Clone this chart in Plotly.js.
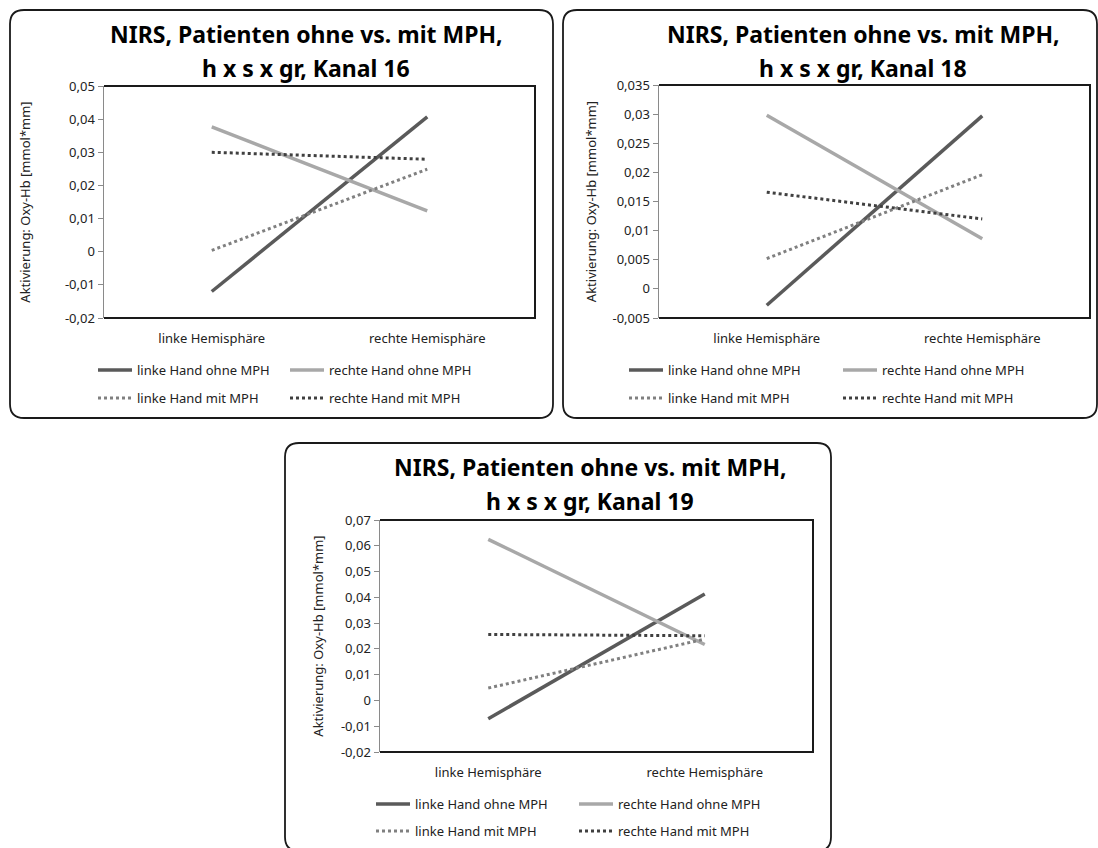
<!DOCTYPE html>
<html>
<head>
<meta charset="utf-8">
<script src="https://cdn.plot.ly/plotly-3.0.1.min.js"></script>
<style>html,body{margin:0;padding:0;background:#fff;}#chart{width:1098px;height:848px;}</style>
</head>
<body>
<div id="chart"></div>
<script>
// ---- data ----
const categories = ['linke Hemisphäre', 'rechte Hemisphäre'];
const seriesNames = ['linke Hand ohne MPH', 'rechte Hand ohne MPH', 'linke Hand mit MPH', 'rechte Hand mit MPH'];

const kanal16_linkeOhne = [-0.0120, 0.0407];
const kanal16_rechteOhne = [0.0377, 0.0123];
const kanal16_linkeMit = [0.0004, 0.0249];
const kanal16_rechteMit = [0.0300, 0.0279];

const kanal18_linkeOhne = [-0.0028, 0.0297];
const kanal18_rechteOhne = [0.0298, 0.0086];
const kanal18_linkeMit = [0.0052, 0.0196];
const kanal18_rechteMit = [0.0166, 0.0120];

const kanal19_linkeOhne = [-0.0071, 0.0413];
const kanal19_rechteOhne = [0.0625, 0.0217];
const kanal19_linkeMit = [0.0048, 0.0238];
const kanal19_rechteMit = [0.0256, 0.0251];

const titleLine1 = ['NIRS, Patienten ohne vs. mit MPH,', 'NIRS, Patienten ohne vs. mit MPH,', 'NIRS, Patienten ohne vs. mit MPH,'];
const titleLine2 = ['h x s x gr, Kanal 16', 'h x s x gr, Kanal 18', 'h x s x gr, Kanal 19'];
const yAxisTitle = 'Aktivierung: Oxy-Hb [mmol*mm]';

const tickVals16 = [-0.02, -0.01, 0, 0.01, 0.02, 0.03, 0.04, 0.05];
const tickText16 = ['-0,02', '-0,01', '0', '0,01', '0,02', '0,03', '0,04', '0,05'];
const tickVals18 = [-0.005, 0, 0.005, 0.01, 0.015, 0.02, 0.025, 0.03, 0.035];
const tickText18 = ['-0,005', '0', '0,005', '0,01', '0,015', '0,02', '0,025', '0,03', '0,035'];
const tickVals19 = [-0.02, -0.01, 0, 0.01, 0.02, 0.03, 0.04, 0.05, 0.06, 0.07];
const tickText19 = ['-0,02', '-0,01', '0', '0,01', '0,02', '0,03', '0,04', '0,05', '0,06', '0,07'];

// ---- styling / layout ----
const W = 1098, H = 848;
const FONT = '"Noto Sans", "Open Sans", sans-serif';
const FS = 13;
const px = x => x / W;
const py = y => 1 - y / H;

const styles = [
  {color: '#5a5a5a', width: 3.5, dash: 'solid'},
  {color: '#a8a8a8', width: 3.5, dash: 'solid'},
  {color: '#808080', width: 3, dash: 'dot'},
  {color: '#404040', width: 3, dash: 'dot'}
];

const charts = [
  {data: [kanal16_linkeOhne, kanal16_rechteOhne, kanal16_linkeMit, kanal16_rechteMit],
   tv: tickVals16, tt: tickText16, range: [-0.02, 0.05],
   box: [10, 10, 553, 418], plot: [104, 86, 535, 318], titleX: 306, titleY1: 34, titleY2: 68,
   legX: 93, legY1: 370, legY2: 398, entry: 143, standoff: 31},
  {data: [kanal18_linkeOhne, kanal18_rechteOhne, kanal18_linkeMit, kanal18_rechteMit],
   tv: tickVals18, tt: tickText18, range: [-0.005, 0.035],
   box: [563, 10, 1097, 418], plot: [659, 85, 1090, 318], titleX: 863, titleY1: 34, titleY2: 68,
   legX: 624, legY1: 370, legY2: 398, entry: 165, standoff: 13},
  {data: [kanal19_linkeOhne, kanal19_rechteOhne, kanal19_linkeMit, kanal19_rechteMit],
   tv: tickVals19, tt: tickText19, range: [-0.02, 0.07],
   box: [285, 443, 831, 851], plot: [380, 520, 813, 752], titleX: 590, titleY1: 467, titleY2: 501,
   legX: 371, legY1: 804, legY2: 831, entry: 154, standoff: 14}
];

const traces = [];
const layout = {
  width: W, height: H,
  margin: {l: 0, r: 0, t: 0, b: 0},
  paper_bgcolor: '#ffffff', plot_bgcolor: '#ffffff',
  font: {family: FONT, size: FS, color: '#222'},
  showlegend: true,
  shapes: [], annotations: []
};

function roundRect(x0, y0, x1, y1, r) {
  const rx = r / W, ry = r / H;
  const X0 = px(x0), X1 = px(x1), Y0 = py(y0), Y1 = py(y1);
  return `M${X0 + rx},${Y0} L${X1 - rx},${Y0} Q${X1},${Y0} ${X1},${Y0 - ry} ` +
         `L${X1},${Y1 + ry} Q${X1},${Y1} ${X1 - rx},${Y1} L${X0 + rx},${Y1} ` +
         `Q${X0},${Y1} ${X0},${Y1 + ry} L${X0},${Y0 - ry} Q${X0},${Y0} ${X0 + rx},${Y0} Z`;
}

charts.forEach((c, i) => {
  const n = i + 1;
  const xa = n === 1 ? 'x' : 'x' + n;
  const ya = n === 1 ? 'y' : 'y' + n;
  const legA = 'legend' + (i === 0 ? '' : (2 * i + 1));
  const legB = 'legend' + (2 * i + 2);
  c.data.forEach((vals, s) => {
    traces.push({
      type: 'scatter', mode: 'lines',
      x: categories, y: vals, name: seriesNames[s],
      xaxis: xa, yaxis: ya,
      legend: s < 2 ? legA : legB,
      line: styles[s],
      hoverinfo: 'skip'
    });
  });
  const [l, t, r, b] = c.plot;
  layout['xaxis' + (n === 1 ? '' : n)] = {
    type: 'category', range: [-0.5, 1.5], domain: [px(l), px(r)], anchor: ya,
    showline: false, showgrid: false, zeroline: false, ticks: '',
    ticklabelstandoff: 11, tickfont: {size: FS, color: '#222', family: FONT}, fixedrange: true
  };
  layout['yaxis' + (n === 1 ? '' : n)] = {
    range: c.range, domain: [py(b), py(t)], anchor: xa,
    tickvals: c.tv, ticktext: c.tt,
    showline: true, linecolor: '#8a8a8a', linewidth: 1.5,
    ticks: 'outside', ticklen: 5, tickcolor: '#8a8a8a', tickwidth: 1,
    showgrid: false, zeroline: false, fixedrange: true,
    tickfont: {size: FS, color: '#222', family: FONT},
    title: {text: yAxisTitle, font: {size: FS, color: '#222', family: FONT}, standoff: c.standoff}
  };
  // outer rounded box
  layout.shapes.push({type: 'path', xref: 'paper', yref: 'paper', path: roundRect(c.box[0], c.box[1], c.box[2], c.box[3], 14),
    line: {color: '#1a1a1a', width: 1.8}, fillcolor: 'rgba(0,0,0,0)', layer: 'below'});
  // plot frame top/right/bottom
  layout.shapes.push({type: 'path', xref: 'paper', yref: 'paper',
    path: `M${px(l)},${py(t)} L${px(r)},${py(t)} L${px(r)},${py(b)} L${px(l)},${py(b)}`,
    line: {color: '#1a1a1a', width: 2}});
  // title (two lines)
  [[titleLine1[i], c.titleY1], [titleLine2[i], c.titleY2]].forEach(([txt, yy]) => {
    layout.annotations.push({xref: 'paper', yref: 'paper', x: px(c.titleX), y: py(yy),
      xanchor: 'center', yanchor: 'middle', showarrow: false, text: '<b>' + txt + '</b>',
      font: {family: FONT, size: 23, color: '#000'}});
  });
  // legends
  const legCommon = {orientation: 'h', xref: 'paper', yref: 'paper', xanchor: 'left', yanchor: 'middle',
    entrywidth: c.entry, entrywidthmode: 'pixels', itemwidth: 34, bgcolor: 'rgba(0,0,0,0)', borderwidth: 0,
    font: {family: FONT, size: FS, color: '#222'}, itemclick: false, itemdoubleclick: false, tracegroupgap: 0};
  layout[legA] = Object.assign({}, legCommon, {x: px(c.legX), y: py(c.legY1)});
  layout[legB] = Object.assign({}, legCommon, {x: px(c.legX), y: py(c.legY2)});
});

Plotly.newPlot('chart', traces, layout, {displayModeBar: false, staticPlot: true});
</script>
</body>
</html>
